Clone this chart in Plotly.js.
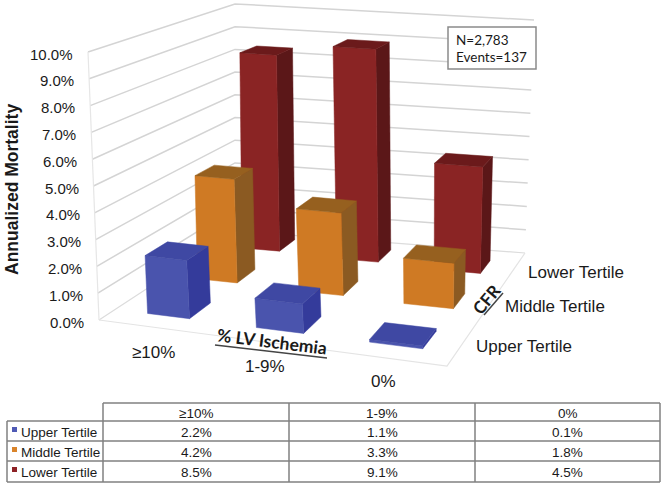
<!DOCTYPE html>
<html><head><meta charset="utf-8">
<script src="https://cdn.plot.ly/plotly-3.0.1.min.js"></script>
<style>html,body{margin:0;padding:0;background:#fff}#c{width:665px;height:485px}</style>
</head><body><div id="c"></div>
<script>
const ischemiaLevels = ['≥10%', '1-9%', '0%'];
const tertiles = ['Upper Tertile', 'Middle Tertile', 'Lower Tertile'];
const upperTertile = [2.2, 1.1, 0.1];
const middleTertile = [4.2, 3.3, 1.8];
const lowerTertile = [8.5, 9.1, 4.5];
const yTicks = [0,1,2,3,4,5,6,7,8,9,10];

const seriesValues = [upperTertile, middleTertile, lowerTertile];
const palette = [
  {front:'#4a54ad', side:'#343b9b', top:'#3f48a3', swatch:'#4f5ab5'},
  {front:'#cf7a24', side:'#8b5a22', top:'#96601f', swatch:'#d9842b'},
  {front:'#8a2424', side:'#5b1718', top:'#6b1a1b', swatch:'#8e2226'}
];

function homography(A,B,C,D){
  const d1=[B[0]-C[0],B[1]-C[1]], d2=[D[0]-C[0],D[1]-C[1]];
  const s=[A[0]-B[0]+C[0]-D[0],A[1]-B[1]+C[1]-D[1]];
  const det=d1[0]*d2[1]-d1[1]*d2[0];
  const g=(s[0]*d2[1]-s[1]*d2[0])/det, h=(d1[0]*s[1]-d1[1]*s[0])/det;
  return (u,v)=>{
    const w=g*u+h*v+1;
    return [((B[0]-A[0]+g*B[0])*u+(D[0]-A[0]+h*D[0])*v+A[0])/w,
            ((B[1]-A[1]+g*B[1])*u+(D[1]-A[1]+h*D[1])*v+A[1])/w];
  };
}
const floorH = homography([99,320],[447,366],[525,253],[235,231]);
const topH = homography([88,52],[450,91],[534,20],[235,4]);
function project(u,v,val){
  const f=floorH(u,v), t=topH(u,v), k=val/10;
  return [f[0]+(t[0]-f[0])*k, f[1]+(t[1]-f[1])*k];
}
const colCenters=[0.18,0.527,0.848], rowCenters=[0.165,0.5,0.85];
const halfW=0.069, halfD=0.07;
const barV=(u,v)=>v*(1.05-0.1*u);
const barH=(val,v)=>val*(1-0.025*v);

const traces=[];
function poly(pts,color,name){
  traces.push({type:'scatter',mode:'lines',x:pts.map(p=>p[0]).concat(pts[0][0]),y:pts.map(p=>p[1]).concat(pts[0][1]),
    fill:'toself',fillcolor:color,line:{color:color,width:0.5},hoverinfo:'skip',showlegend:false,name:name});
}
function line(pts,color,width){
  traces.push({type:'scatter',mode:'lines',x:pts.map(p=>p[0]),y:pts.map(p=>p[1]),
    line:{color:color,width:width},hoverinfo:'skip',showlegend:false});
}
yTicks.forEach(t=>{
  if(t>0) line([project(0,0,t),project(0,1,t),project(1,1,t)],'#d4d4d4',1.5);
  else line([project(0,0,0),project(0,1,0),project(1,1,0)],'#dcdcdc',1.2);
});
line([project(0,0,0),project(0,0,10)],'#e6e6e6',1.2);
line([project(0,0,0),project(1,0,0),project(1,1,0)],'#e4e4e4',1.2);
for(let s=2;s>=0;s--){
  for(let c=0;c<3;c++){
    const uc=colCenters[c], vc=rowCenters[s], val=barH(seriesValues[s][c],vc);
    const u0=uc-halfW,u1=uc+halfW;
    const v0=barV(uc,vc-halfD),v1=barV(uc,vc+halfD);
    const n=tertiles[s]+' '+ischemiaLevels[c], col=palette[s];
    poly([project(u1,v0,0),project(u1,v1,0),project(u1,v1,val),project(u1,v0,val)],col.side,n);
    poly([project(u0,v0,0),project(u1,v0,0),project(u1,v0,val),project(u0,v0,val)],col.front,n);
    poly([project(u0,v0,val),project(u1,v0,val),project(u1,v1,val),project(u0,v1,val)],col.top,n);
  }
}

const ann=[], shapes=[];
const txt=(x,y,text,size,opt={})=>ann.push(Object.assign({xref:'x',yref:'y',x:x,y:y,text:text,showarrow:false,
  font:{family:'Liberation Sans, Arial, sans-serif',size:size,color:'#1a1a1a'},xanchor:'center',yanchor:'middle',borderpad:0,borderwidth:0},opt));
const seg=(x0,y0,x1,y1,color,w)=>shapes.push({type:'line',xref:'x',yref:'y',x0,y0,x1,y1,line:{color:color,width:w}});

yTicks.forEach(t=>{
  const p=project(0,0,t);
  txt(p[0]-15,p[1]+2,t.toFixed(1)+'%',15,{xanchor:'right'});
});
txt(12,190,'<b>Annualized Mortality</b>',17.5,{textangle:-90});
const catPos=[[153,352],[265,366],[383,381]];
ischemiaLevels.forEach((c,i)=>txt(catPos[i][0],catPos[i][1],c,17));
const terPos=[[476,346],[505,306],[528,272]];
tertiles.forEach((t,i)=>txt(terPos[i][0],terPos[i][1],t,17,{xanchor:'left'}));
const calibri='Lato, "Open Sans", sans-serif';
txt(272,341,'<b>% LV Ischemia</b>',17.5,{textangle:7,font:{family:calibri,size:17.5,color:'#1a1a1a'}});
seg(215,345,327,358,'#444',1.5);
txt(486,299,'<b>CFR</b>',17,{textangle:-50,font:{family:calibri,size:17,color:'#1a1a1a'}});
seg(484,315,503,293,'#444',1.5);
shapes.push({type:'rect',xref:'x',yref:'y',x0:448,y0:27,x1:536,y1:69,line:{color:'#8a8a8a',width:1.5},fillcolor:'#fff'});
txt(456,40,'N=2,783',13.5,{xanchor:'left',font:{family:calibri,size:13.5,color:'#1a1a1a'}});
txt(456,57,'Events=137',13.5,{xanchor:'left',font:{family:calibri,size:13.5,color:'#1a1a1a'}});

const colX=[7,103,289,475,660], rowY=[403,421,441,461,482], grid='#808080';
seg(103,rowY[0],660,rowY[0],grid,1.5);
rowY.slice(1).forEach(y=>seg(7,y,660,y,grid,1.5));
seg(7,rowY[1],7,rowY[4],grid,1.5);
colX.slice(1).forEach(x=>seg(x,rowY[0],x,rowY[4],grid,1.5));
ischemiaLevels.forEach((c,i)=>txt((colX[i+1]+colX[i+2])/2,(rowY[0]+rowY[1])/2+1,c,13.5));
tertiles.forEach((t,r)=>{
  const y=(rowY[r+1]+rowY[r+2])/2+1;
  txt(21,y,t,13.5,{xanchor:'left'});
  shapes.push({type:'rect',xref:'x',yref:'y',x0:12,x1:17,y0:rowY[r+1]+6,y1:rowY[r+1]+11,line:{width:0},fillcolor:palette[r].swatch});
  seriesValues[r].forEach((v,i)=>txt((colX[i+1]+colX[i+2])/2,y,v.toFixed(1)+'%',13.5));
});

const hidden={visible:false,fixedrange:true};
Plotly.newPlot('c',traces,{
  width:665,height:485,margin:{l:0,r:0,t:0,b:0},showlegend:false,
  paper_bgcolor:'#fff',plot_bgcolor:'#fff',
  xaxis:Object.assign({range:[0,665]},hidden),
  yaxis:Object.assign({range:[485,0]},hidden),
  annotations:ann,shapes:shapes
},{displayModeBar:false,staticPlot:true});
</script></body></html>
